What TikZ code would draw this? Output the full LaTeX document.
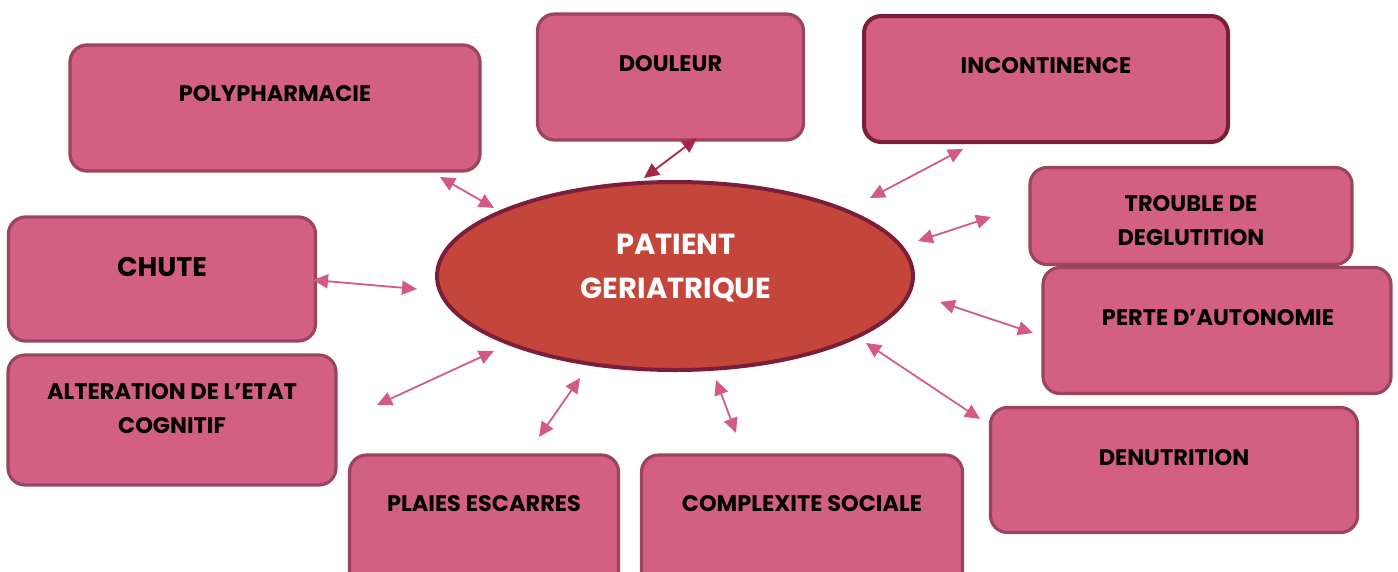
\documentclass[tikz,border=0pt]{standalone}
\usepackage{fontspec}
\setmainfont{Poppins}
\usetikzlibrary{arrows.meta}
\definecolor{boxfill}{HTML}{D35F82}
\definecolor{boxline}{HTML}{9A4460}
\definecolor{darkline}{HTML}{7B1E3A}
\definecolor{ellfill}{HTML}{C4463A}
\definecolor{arrcol}{HTML}{D35A82}
\definecolor{arrdark}{HTML}{A62648}
\tikzset{
  box/.style={draw=boxline, line width=3.2pt, fill=boxfill, rounded corners=17pt, inner sep=0pt},
  lbl/.style={font=\bfseries\fontsize{22.5}{34}\selectfont, text=black, align=center, inner sep=0pt},
  dbl/.style={draw=arrcol, line width=1.8pt, {Triangle[length=15pt,width=14pt]}-{Triangle[length=15pt,width=14pt]}},
}
\begin{document}
\begin{tikzpicture}[x=1pt,y=-1pt]
\useasboundingbox (0,0) rectangle (1398,571);
\clip (0,0) rectangle (1398,571);
% boxes
\node[box, minimum width=410pt, minimum height=126pt] (poly) at (275,108) {};
\node[lbl] (polyT) at (275,94) {POLYPHARMACIE};
\node[box, minimum width=266pt, minimum height=126pt] (doul) at (670.5,77) {};
\node[lbl] (doulT) at (670.5,64) {DOULEUR};
\node[box, draw=darkline, line width=4pt, minimum width=364pt, minimum height=126pt] (inco) at (1046,79) {};
\node[lbl] (incoT) at (1046,66) {INCONTINENCE};
\node[box, minimum width=322pt, minimum height=97pt] (trou) at (1191,216) {};
\node[lbl] (trouT) at (1191,221) {TROUBLE DE\\DEGLUTITION};
\node[box, minimum width=348pt, minimum height=126pt] (perte) at (1217,330.5) {};
\node[lbl] (perteT) at (1218,318) {PERTE D’AUTONOMIE};
\node[box, minimum width=367pt, minimum height=125pt] (denu) at (1174,470) {};
\node[lbl] (denuT) at (1174,458) {DENUTRITION};
\node[box, minimum width=321pt, minimum height=140pt] (comp) at (802,525) {};
\node[lbl] (compT) at (802,504) {COMPLEXITE SOCIALE};
\node[box, minimum width=269pt, minimum height=140pt] (plai) at (484,525) {};
\node[lbl] (plaiT) at (484,504) {PLAIES ESCARRES};
\node[box, minimum width=328pt, minimum height=130pt] (alte) at (172,420) {};
\node[lbl] (alteT) at (172,409) {ALTERATION DE L’ETAT\\COGNITIF};
\node[box, minimum width=307pt, minimum height=124pt] (chute) at (162,279) {};
\node[lbl, font=\bfseries\fontsize{27}{30}\selectfont] (chuteT) at (162,267) {CHUTE};
% central ellipse
\draw[draw=darkline, line width=4pt, fill=ellfill] (675,276) ellipse [x radius=238, y radius=94];
\coordinate (c) at (675,276);
\node[font=\bfseries\fontsize{29}{44}\selectfont, text=white, align=center, inner sep=0pt] (pat) at (676,268) {PATIENT\\GERIATRIQUE};
% arrow end points
\coordinate (a1) at (440,177); \coordinate (b1) at (494,208);
\coordinate (a2) at (644,178); \coordinate (b2) at (697,138);
\coordinate (a3) at (870,198); \coordinate (b3) at (963,149);
\coordinate (a4) at (918,241); \coordinate (b4) at (991,217);
\coordinate (a5) at (940,302); \coordinate (b5) at (1033,333);
\coordinate (a6) at (866,343); \coordinate (b6) at (980,419);
\coordinate (a7) at (716,380); \coordinate (b7) at (736,433);
\coordinate (a8) at (580,378); \coordinate (b8) at (539,437);
\coordinate (a9) at (494,351); \coordinate (b9) at (377,405);
\coordinate (a10) at (313,280); \coordinate (b10) at (417,289);
\draw[dbl] (a1) -- (b1);
\draw[dbl, draw=arrdark] (a2) -- (b2);
\draw[dbl] (a3) -- (b3);
\draw[dbl] (a4) -- (b4);
\draw[dbl] (a5) -- (b5);
\draw[dbl] (a6) -- (b6);
\draw[dbl] (a7) -- (b7);
\draw[dbl] (a8) -- (b8);
\draw[dbl] (a9) -- (b9);
\draw[dbl] (a10) -- (b10);
\end{tikzpicture}
\end{document}
